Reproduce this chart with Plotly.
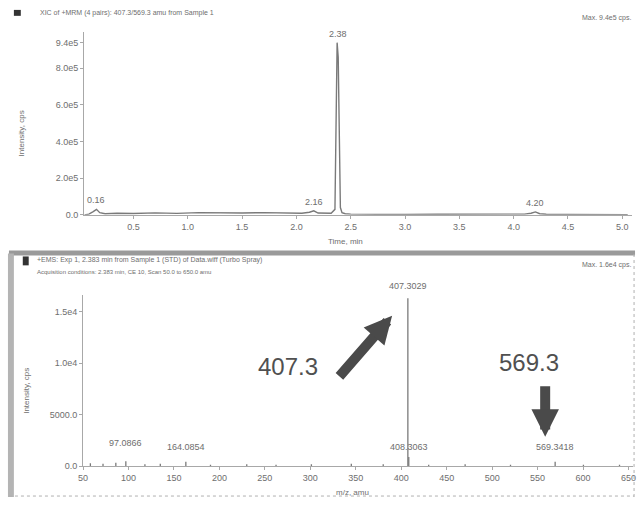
import plotly.graph_objects as go

W, H = 641, 505

# ---- chromatogram (top) ----
rt_time = [0.05, 0.09, 0.13, 0.16, 0.19, 0.24, 0.35, 0.5, 0.7, 0.9, 1.1, 1.3, 1.5, 1.7, 1.9, 2.05,
           2.12, 2.16, 2.20, 2.26, 2.32, 2.355, 2.365, 2.375, 2.385, 2.395, 2.405, 2.42, 2.45,
           2.50, 2.6, 2.8, 3.0, 3.3, 3.6, 3.9, 4.1, 4.16, 4.20, 4.24, 4.3, 4.5, 4.7, 4.9, 5.05]
rt_intensity = [0, 4000, 18000, 30000, 12000, 6000, 9000, 7000, 11000, 8000, 12000, 9000, 10000,
                12000, 8000, 9000, 14000, 22000, 10000, 8000, 9000, 30000, 600000, 940000,
                860000, 380000, 40000, 12000, 6000, 4000, 3000, 3000, 2000, 3000, 2000, 3000,
                4000, 9000, 16000, 6000, 3000, 2000, 2000, 1000, 1000]
rt_peak_labels = [(0.16, "0.16", 30000), (2.16, "2.16", 22000), (2.38, "2.38", 940000), (4.20, "4.20", 16000)]
rt_ticks = [0.5, 1.0, 1.5, 2.0, 2.5, 3.0, 3.5, 4.0, 4.5, 5.0]
rt_yticks = [0, 200000, 400000, 600000, 800000, 940000]
rt_yticklabels = ["0.0", "2.0e5", "4.0e5", "6.0e5", "8.0e5", "9.4e5"]

# ---- mass spectrum (bottom) ----
ms_mz = [58.1, 72.0, 86.1, 97.1, 118.1, 135.0, 163.1, 190.2, 230.1, 262.3, 301.2, 345.1,
         380.2, 407.3, 408.3, 430.2, 470.3, 520.2, 569.3, 600.4, 640.1]
ms_intensity = [300, 250, 350, 500, 200, 250, 450, 150, 200, 150, 200, 250, 200, 16300, 900,
                150, 200, 150, 450, 150, 150]
ms_peak_labels = [(97.1, "97.0866", 1400), (163.1, "164.0854", 1000), (407.3, "407.3029", 16600),
                  (408.3, "408.3063", 1000), (569.3, "569.3418", 1000)]
ms_ticks = [50, 100, 150, 200, 250, 300, 350, 400, 450, 500, 550, 600, 650]
ms_yticks = [0, 5000, 10000, 15000]
ms_yticklabels = ["0.0", "5000.0", "1.0e4", "1.5e4"]

def px(x):
    return x / W

def py(y):
    return 1 - y / H

grey = "#6e6e6e"
fnt = dict(family="Liberation Sans, Arial", size=9, color=grey)

fig = go.Figure()
fig.add_trace(go.Scatter(x=rt_time, y=rt_intensity, mode="lines",
                         line=dict(color="#7a7a7a", width=1.4), xaxis="x", yaxis="y",
                         showlegend=False, hoverinfo="skip"))

sx, sy = [], []
for m, v in zip(ms_mz, ms_intensity):
    sx += [m, m, None]
    sy += [0, v, None]
fig.add_trace(go.Scatter(x=sx, y=sy, mode="lines", line=dict(color="#7a7a7a", width=1.3),
                         xaxis="x2", yaxis="y2", showlegend=False, hoverinfo="skip"))

axis_common = dict(showgrid=False, zeroline=False, showline=True, linecolor="#a8a8a8",
                   linewidth=1, ticks="outside", ticklen=3, tickcolor="#a8a8a8",
                   tickfont=fnt)

fig.update_layout(
    width=W, height=H, margin=dict(l=0, r=0, t=0, b=0),
    paper_bgcolor="white", plot_bgcolor="white",
    xaxis=dict(domain=[px(80), px(635)], range=[0.045, 5.09], anchor="y",
               tickvals=rt_ticks, ticktext=[f"{t:.1f}" for t in rt_ticks], **axis_common),
    yaxis=dict(domain=[py(217), py(32)], range=[0, 1000000], anchor="x",
               tickvals=rt_yticks, ticktext=rt_yticklabels, **axis_common),
    xaxis2=dict(domain=[px(79), px(636)], range=[50, 655], anchor="y2",
                tickvals=ms_ticks, ticktext=[str(t) for t in ms_ticks], **axis_common),
    yaxis2=dict(domain=[py(471), py(298)], range=[0, 16600], anchor="x2",
                tickvals=ms_yticks, ticktext=ms_yticklabels, **axis_common),
)

ann = []
for t, lab, v in rt_peak_labels:
    ann.append(dict(x=t, y=v, xref="x", yref="y", text=lab, showarrow=False, yanchor="bottom",
                    yshift=2, font=fnt))
for m, lab, v in ms_peak_labels:
    ann.append(dict(x=m, y=v, xref="x2", yref="y2", text=lab, showarrow=False, yanchor="bottom",
                    yshift=2, font=fnt))

def txt(x, y, s, size=8, color=grey, xanchor="left", angle=0):
    ann.append(dict(x=px(x), y=py(y), xref="paper", yref="paper", text=s, showarrow=False,
                    xanchor=xanchor, yanchor="middle", textangle=angle,
                    font=dict(family="Liberation Sans, Arial", size=size, color=color)))

txt(33, 13, "XIC of +MRM (4 pairs): 407.3/569.3 amu from Sample 1", 7)
txt(636, 18, "Max. 9.4e5 cps.", 7, xanchor="right")
txt(17, 135, "Intensity, cps", 8, angle=-90, xanchor="center")
txt(345, 244, "Time, min", 8, xanchor="center")
txt(30, 263, "+EMS: Exp 1, 2.383 min from Sample 1 (STD) of Data.wiff (Turbo Spray)", 7)
txt(30, 275, "Acquisition conditions: 2.383 min, CE 10, Scan 50.0 to 650.0 amu", 6)
txt(636, 268, "Max. 1.6e4 cps.", 7, xanchor="right")
txt(21, 395, "Intensity, cps", 8, angle=-90, xanchor="center")
txt(352, 497, "m/z, amu", 8, xanchor="center")
txt(287, 370, "407.3", 24, color="#505050", xanchor="center")
txt(531, 366, "569.3", 24, color="#505050", xanchor="center")

# arrows
ann.append(dict(x=px(392), y=py(319), xref="paper", yref="paper", text="", showarrow=True,
                axref="pixel", ayref="pixel", ax=-54, ay=62, arrowhead=2, arrowsize=0.55,
                arrowwidth=10, arrowcolor="#4a4a4a"))
ann.append(dict(x=px(547), y=py(441), xref="paper", yref="paper", text="", showarrow=True,
                axref="pixel", ayref="pixel", ax=0, ay=-52, arrowhead=2, arrowsize=0.55,
                arrowwidth=10, arrowcolor="#4a4a4a"))

fig.update_layout(annotations=ann)

shapes = [
    dict(type="rect", xref="paper", yref="paper", x0=px(4), x1=px(638), y0=py(258), y1=py(253),
         fillcolor="#9a9a9a", line=dict(width=0)),
    dict(type="rect", xref="paper", yref="paper", x0=px(3), x1=px(9), y0=py(502), y1=py(256),
         fillcolor="#b4b4b4", line=dict(width=0)),
    dict(type="line", xref="paper", yref="paper", x0=px(637), x1=px(637), y0=py(502), y1=py(256),
         line=dict(color="#b0b0b0", width=1, dash="dot")),
    dict(type="line", xref="paper", yref="paper", x0=px(4), x1=px(637), y0=py(501), y1=py(501),
         line=dict(color="#b0b0b0", width=1, dash="dot")),
    dict(type="rect", xref="paper", yref="paper", x0=px(9), x1=px(16), y0=py(16), y1=py(10),
         fillcolor="#333", line=dict(width=0)),
    dict(type="rect", xref="paper", yref="paper", x0=px(18), x1=px(24), y0=py(268), y1=py(259),
         fillcolor="#333", line=dict(width=0)),
]
fig.update_layout(shapes=shapes)

fig.write_html("out.html")
